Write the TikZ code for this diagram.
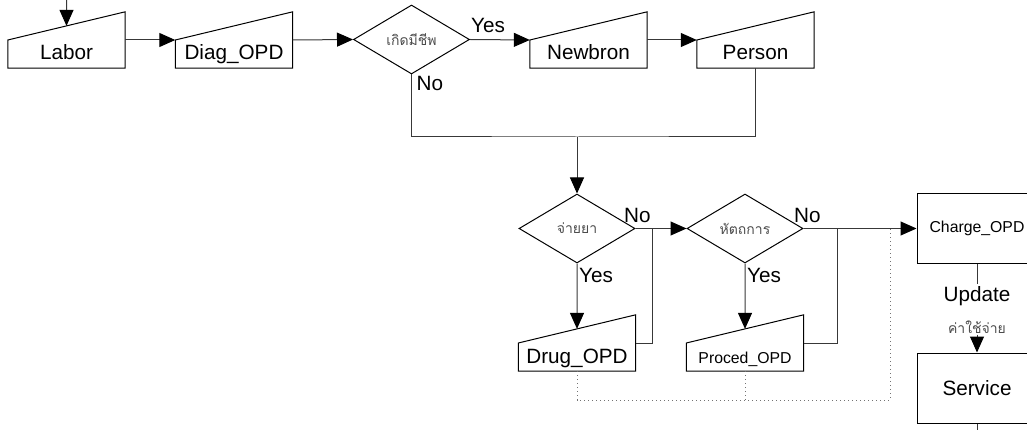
\documentclass[tikz,border=0pt]{standalone}
\usepackage{fontspec}
\setmainfont{Liberation Sans}
\newfontfamily\thaifont[Script=Thai]{Loma}
\usetikzlibrary{arrows.meta,shapes.geometric,calc}

\tikzset{
  big/.style={font=\fontsize{20.7}{24}\selectfont},
  small/.style={font=\fontsize{15.8}{19}\selectfont},
  thai/.style={font=\thaifont\fontsize{14}{17}\selectfont, text=black!70},
  boxline/.style={draw=black, line width=1pt},
  % manual-input block: sloped top rising to the right, text in the lower part
  manin/.style={minimum width=117pt, minimum height=56pt, inner sep=0pt,
    text height=40pt, text depth=0pt,
    append after command={\pgfextra{\draw[boxline,line join=miter]
      (\tikzlastnode.south west) -- (\tikzlastnode.south east) --
      (\tikzlastnode.north east) -- (\tikzlastnode.west) -- cycle;}}},
  decide/.style={diamond, boxline, minimum width=116pt, minimum height=69pt,
    inner sep=0pt, aspect=1.68},
  procbox/.style={rectangle, boxline, minimum width=120pt, minimum height=69pt,
    inner sep=0pt},
  conn/.style={draw=black!78, line width=1pt},
  arr/.style={conn, -{Triangle[length=16pt,width=14pt,fill=black,color=black]}},
  dots/.style={draw=black!55, line width=1pt, dash pattern=on 1pt off 3pt},
  tag/.style={big, inner sep=0pt, anchor=base west},
}

\begin{document}
\begin{tikzpicture}[x=1pt, y=-1pt]
\useasboundingbox (0,0) rectangle (1027,430);

% top row
\node[manin, big] (labor)  at (66.5, 40) {Labor};
\node[manin, big] (diag)   at (234, 40)  {Diag\_OPD};
\node[decide, thai] (alive) at (411.5, 39.5) {เกิดมีชีพ};
\node[manin, big] (newb)   at (588.5, 40) {Newbron};
\node[manin, big] (person) at (755.5, 40) {Person};

% middle row
\node[decide, thai] (drugq) at (577, 228.5) {จ่ายยา};
\node[decide, thai] (procq) at (745, 228.5) {หัตถการ};
\node[procbox, small] (charge) at (977, 228.5) {Charge\_OPD};

% bottom row
\node[manin, big]   (drug)    at (577, 343) {Drug\_OPD};
\node[manin, small] (proced)  at (745, 343) {Proced\_OPD};
\node[procbox, big, minimum height=70pt] (service) at (977, 388) {Service};

% labels on the Charge_OPD -> Service link
\node[big, inner sep=2.5pt, anchor=base] (upd) at (977, 301.5) {Update};
\node[thai, inner sep=1pt] (updth) at (977, 327) {ค่าใช้จ่าย};

% free ends and junctions
\coordinate (entry) at (66.5, -2);
\coordinate (merge) at (577, 137);
\coordinate (jdrug) at (652, 228.5);
\coordinate (jproc) at (837, 228.5);
\coordinate (dcorner) at (890, 400);
\coordinate (dtop) at (890, 228.5);
\coordinate (exit) at (977, 440);

% top row flow
\draw[arr] (entry) -- ($(labor.west)!0.5!(labor.north east)$);
\draw[arr] (labor.east) -- (diag.west);
\draw[arr] (diag.east) -- (alive.west);
\draw[arr] (alive.east) -- (newb.west);
\draw[arr] (newb.east) -- (person.west);
\node[tag] (yes1) at ($(alive.east)+(1,-7)$) {Yes};
\node[tag] (no1)  at ($(alive.south)+(5,16)$) {No};

% merge down to the drug decision
\draw[conn] (alive.south) |- (merge) -| (person.south);
\draw[arr] (merge) -- (drugq.north);

% drug decision
\draw[arr] (drugq.south) -- ($(drug.west)!0.5!(drug.north east)$);
\draw[arr] (drugq.east) -- (procq.west);
\draw[conn] (drug.east) -| (jdrug);
\node[tag] (no2)  at ($(drugq.east)+(-11.5,-5.5)$) {No};
\node[tag] (yes2) at ($(drugq.south)+(2,18.5)$) {Yes};

% procedure decision
\draw[arr] (procq.south) -- ($(proced.west)!0.5!(proced.north east)$);
\draw[arr] (procq.east) -- (charge.west);
\draw[conn] (proced.east) -| (jproc);
\node[tag] (no3)  at ($(procq.east)+(-9.5,-5.5)$) {No};
\node[tag] (yes3) at ($(procq.south)+(2,18.5)$) {Yes};

% dotted links under the records
\draw[dots] (drug.south) |- (dcorner) -- (dtop);
\draw[dots] (proced.south) -- (proced.south |- dcorner);

% charge -> service
\draw[conn] (charge.south) -- (upd.north);
\draw[arr] (updth.south) -- (service.north);
\draw[conn] (service.south) -- (exit);
\end{tikzpicture}
\end{document}
